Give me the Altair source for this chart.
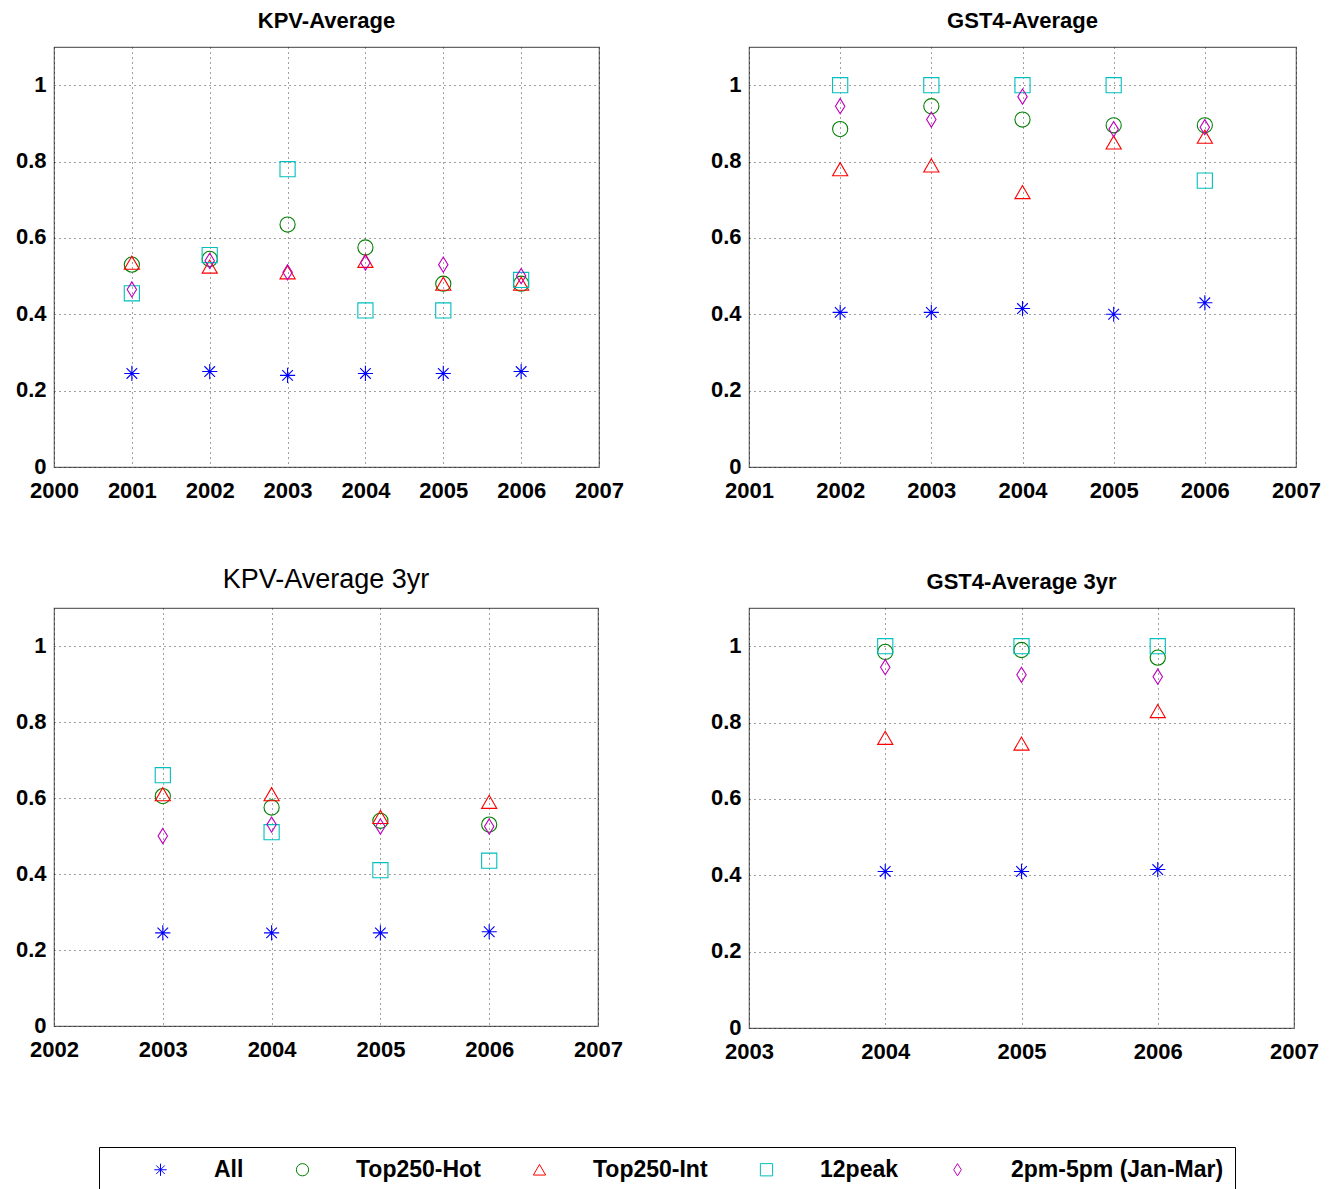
import altair as alt
import pandas as pd

series = ["All", "Top250-Hot", "Top250-Int", "12peak", "2pm-5pm (Jan-Mar)"]
colors = ["#0000ff", "#008000", "#ff0000", "#00bfbf", "#bf00bf"]
asterisk = "M-1,0L1,0M0,-1L0,1M-0.7,-0.7L0.7,0.7M-0.7,0.7L0.7,-0.7"
diamond = "M0,-1L0.62,0L0,1L-0.62,0Z"
shapes = [asterisk, "circle", "triangle-up", "square", diamond]

# KPV-Average
kpv_years = [2001, 2002, 2003, 2004, 2005, 2006]
kpv_all = [0.245, 0.25, 0.24, 0.245, 0.245, 0.25]
kpv_hot = [0.53, 0.545, 0.635, 0.575, 0.48, 0.48]
kpv_int = [0.535, 0.525, 0.51, 0.54, 0.48, 0.48]
kpv_peak = [0.455, 0.555, 0.78, 0.41, 0.41, 0.49]
kpv_pm = [0.465, 0.54, 0.51, 0.535, 0.53, 0.50]

# GST4-Average
gst_years = [2002, 2003, 2004, 2005, 2006]
gst_all = [0.405, 0.405, 0.415, 0.40, 0.43]
gst_hot = [0.885, 0.945, 0.91, 0.895, 0.895]
gst_int = [0.78, 0.79, 0.72, 0.85, 0.865]
gst_peak = [1.0, 1.0, 1.0, 1.0, 0.75]
gst_pm = [0.945, 0.91, 0.97, 0.885, 0.89]

# KPV-Average 3yr
kpv3_years = [2003, 2004, 2005, 2006]
kpv3_all = [0.245, 0.245, 0.245, 0.248]
kpv3_hot = [0.605, 0.575, 0.54, 0.53]
kpv3_int = [0.61, 0.61, 0.55, 0.59]
kpv3_peak = [0.66, 0.51, 0.41, 0.435]
kpv3_pm = [0.50, 0.53, 0.525, 0.525]

# GST4-Average 3yr
gst3_years = [2004, 2005, 2006]
gst3_all = [0.41, 0.41, 0.415]
gst3_hot = [0.985, 0.99, 0.97]
gst3_int = [0.76, 0.745, 0.83]
gst3_peak = [1.0, 1.0, 1.0]
gst3_pm = [0.945, 0.925, 0.92]

y_ticks = [0, 0.2, 0.4, 0.6, 0.8, 1.0]


def frame(years, cols):
    rows = []
    for s, vals in zip(series, cols):
        for yr, v in zip(years, vals):
            rows.append({"year": yr, "series": s, "value": v})
    return pd.DataFrame(rows)


color_scale = alt.Scale(domain=series, range=colors)
shape_scale = alt.Scale(domain=series, range=shapes)

legend_def = alt.Legend(
    title=None, orient="none", direction="horizontal", columns=5,
    legendX=45, legendY=1100,
    strokeColor="black", padding=11, symbolOffset=39,
    symbolSize=150, symbolStrokeWidth=1, labelOffset=42,
    columnPadding=8, labelFontSize=23, labelFontWeight="bold",
    labelFont="Liberation Sans", labelColor="black", labelLimit=400,
)


def panel(df, xmin, title, w, h, tsize=22, tweight="bold", legend=False):
    xvals = list(range(xmin, 2008))
    leg = legend_def if legend else None
    return alt.Chart(df).mark_point(filled=False, size=230, strokeWidth=1.1, opacity=1).encode(
        x=alt.X("year:Q", scale=alt.Scale(domain=[xmin, 2007], nice=False, zero=False),
                axis=alt.Axis(values=xvals, format="d", title=None, labelFlush=False,
                              labelPadding=13)),
        y=alt.Y("value:Q", scale=alt.Scale(domain=[0, 1.1], nice=False),
                axis=alt.Axis(values=y_ticks, format="~g", title=None, labelOffset=-1)),
        color=alt.Color("series:N", scale=color_scale, legend=leg),
        shape=alt.Shape("series:N", scale=shape_scale, legend=leg),
    ).properties(
        width=w, height=h,
        title=alt.TitleParams(title, fontSize=tsize, fontWeight=tweight, font="Liberation Sans",
                              offset=14, color="black"),
    )


p1 = panel(frame(kpv_years, [kpv_all, kpv_hot, kpv_int, kpv_peak, kpv_pm]), 2000, "KPV-Average", 545, 420, legend=True)
p2 = panel(frame(gst_years, [gst_all, gst_hot, gst_int, gst_peak, gst_pm]), 2001, "GST4-Average", 547, 420)
p3 = panel(frame(kpv3_years, [kpv3_all, kpv3_hot, kpv3_int, kpv3_peak, kpv3_pm]), 2002, "KPV-Average 3yr", 544, 418, tsize=27, tweight="normal")
p4 = panel(frame(gst3_years, [gst3_all, gst3_hot, gst3_int, gst3_peak, gst3_pm]), 2003, "GST4-Average 3yr", 545, 420)

chart = alt.concat(
    p1, p2, p3, p4, columns=2, spacing={"row": 141, "column": 150}, bounds="flush"
).properties(
    padding={"left": 14, "top": 9, "right": 5, "bottom": 5}
).configure_view(
    stroke="#666666", strokeWidth=1.2
).configure_axis(
    labelFont="Liberation Sans", labelFontSize=22, labelFontWeight="bold", labelColor="black",
    grid=True, gridColor="black", gridDash=[1, 4], gridOpacity=0.75, gridWidth=1,
    domain=False, ticks=False, labelPadding=8,
)

chart.save("out.html", embed_options={"renderer": "svg", "actions": False})
